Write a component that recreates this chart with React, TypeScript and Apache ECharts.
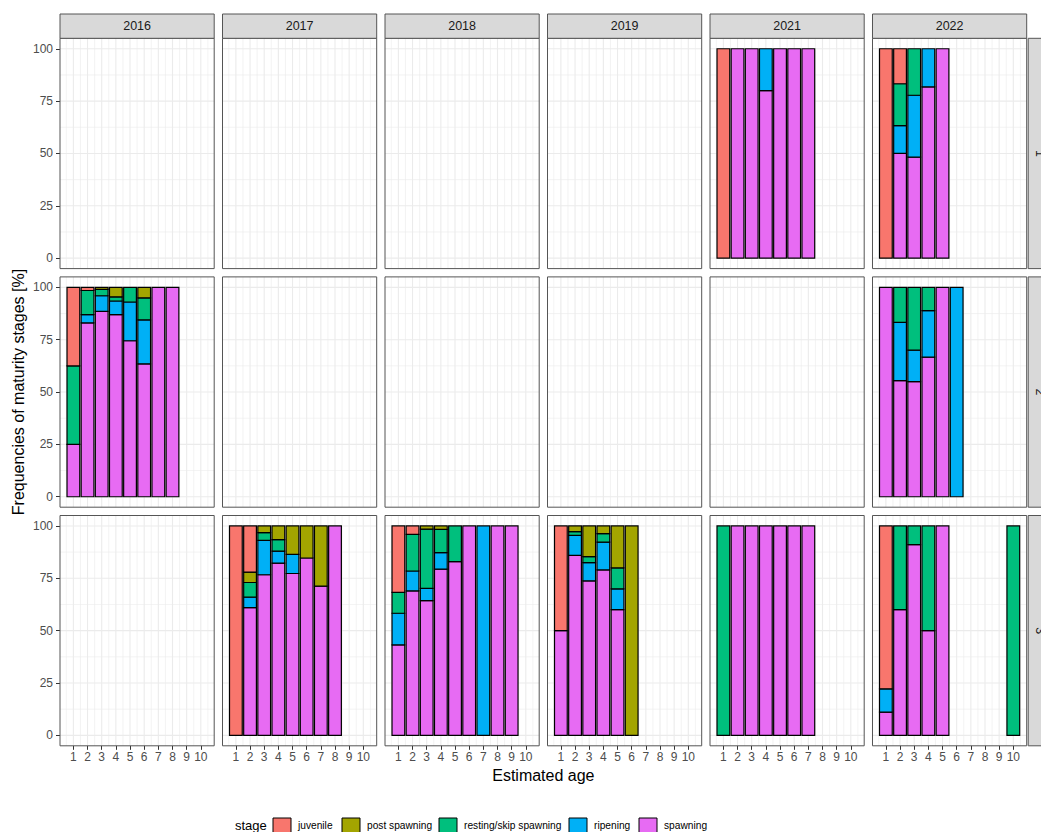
import React, { useEffect, useRef } from 'react';
import * as echarts from 'echarts';

// Maturity stages (fill order) and their colours
const stages = ['juvenile', 'post spawning', 'resting/skip spawning', 'ripening', 'spawning'];
const stageColors = ['#F8766D', '#A3A500', '#00BF7D', '#00B0F6', '#E76BF3'];

// Facets
const years = ['2016', '2017', '2018', '2019', '2021', '2022'];
const areas = ['1', '2', '3'];

// Axis breaks
const ageTicks = [1, 2, 3, 4, 5, 6, 7, 8, 9, 10];
const ageMinor = [0.5, 1.5, 2.5, 3.5, 4.5, 5.5, 6.5, 7.5, 8.5, 9.5, 10.5];
const pctTicks = [0, 25, 50, 75, 100];
const pctMinor = [12.5, 37.5, 62.5, 87.5];

// Rows: [age, juvenile, post spawning, resting/skip spawning, ripening, spawning] in %
const y2016a2 = [
  [1, 37.5, 0, 37.5, 0, 25],
  [2, 1.5, 0, 11.5, 4, 83],
  [3, 0, 1, 3, 7.5, 88.5],
  [4, 0, 4.5, 2, 6.5, 87],
  [5, 0, 0, 7, 18.5, 74.5],
  [6, 0, 5, 10.5, 21, 63.5],
  [7, 0, 0, 0, 0, 100],
  [8, 0, 0, 0, 0, 100],
];
const y2017a3 = [
  [1, 100, 0, 0, 0, 0],
  [2, 22, 5, 7, 5, 61],
  [3, 0, 3.2, 3.7, 16.4, 76.7],
  [4, 0, 6.5, 5.5, 5.7, 82.3],
  [5, 0, 13.6, 0, 9.1, 77.3],
  [6, 0, 15.3, 0, 0, 84.7],
  [7, 0, 28.7, 0, 0, 71.3],
  [8, 0, 0, 0, 0, 100],
];
const y2018a3 = [
  [1, 31.7, 0, 10, 15.1, 43.2],
  [2, 4, 0, 17.5, 9.5, 69],
  [3, 0, 1.5, 28.3, 5.9, 64.3],
  [4, 0, 1.6, 11.1, 7.9, 79.4],
  [5, 0, 0, 17, 0, 83],
  [6, 0, 0, 0, 0, 100],
  [7, 0, 0, 0, 100, 0],
  [8, 0, 0, 0, 0, 100],
  [9, 0, 0, 0, 0, 100],
];
const y2019a3 = [
  [1, 50, 0, 0, 0, 50],
  [2, 0, 2.7, 1.8, 9.5, 86],
  [3, 0, 14.6, 2.9, 8.7, 73.8],
  [4, 0, 3.7, 4, 13.3, 79],
  [5, 0, 20, 10, 10, 60],
  [6, 0, 100, 0, 0, 0],
];
const y2021a1 = [
  [1, 100, 0, 0, 0, 0],
  [2, 0, 0, 0, 0, 100],
  [3, 0, 0, 0, 0, 100],
  [4, 0, 0, 0, 20, 80],
  [5, 0, 0, 0, 0, 100],
  [6, 0, 0, 0, 0, 100],
  [7, 0, 0, 0, 0, 100],
];
const y2021a3 = [
  [1, 0, 0, 100, 0, 0],
  [2, 0, 0, 0, 0, 100],
  [3, 0, 0, 0, 0, 100],
  [4, 0, 0, 0, 0, 100],
  [5, 0, 0, 0, 0, 100],
  [6, 0, 0, 0, 0, 100],
  [7, 0, 0, 0, 0, 100],
];
const y2022a1 = [
  [1, 100, 0, 0, 0, 0],
  [2, 16.7, 0, 20, 13.3, 50],
  [3, 0, 0, 22.2, 29.6, 48.2],
  [4, 0, 0, 0, 18.2, 81.8],
  [5, 0, 0, 0, 0, 100],
];
const y2022a2 = [
  [1, 0, 0, 0, 0, 100],
  [2, 0, 0, 16.7, 27.8, 55.5],
  [3, 0, 0, 30, 15, 55],
  [4, 0, 0, 11.1, 22.2, 66.7],
  [5, 0, 0, 0, 0, 100],
  [6, 0, 0, 0, 100, 0],
];
const y2022a3 = [
  [1, 77.8, 0, 0, 11.1, 11.1],
  [2, 0, 0, 40, 0, 60],
  [3, 0, 0, 8.9, 0, 91.1],
  [4, 0, 0, 50, 0, 50],
  [5, 0, 0, 0, 0, 100],
  [10, 0, 0, 100, 0, 0],
];

const panelData: { year: string; area: string; rows: number[][] }[] = [
  { year: '2016', area: '2', rows: y2016a2 },
  { year: '2017', area: '3', rows: y2017a3 },
  { year: '2018', area: '3', rows: y2018a3 },
  { year: '2019', area: '3', rows: y2019a3 },
  { year: '2021', area: '1', rows: y2021a1 },
  { year: '2021', area: '3', rows: y2021a3 },
  { year: '2022', area: '1', rows: y2022a1 },
  { year: '2022', area: '2', rows: y2022a2 },
  { year: '2022', area: '3', rows: y2022a3 },
];

// Layout (px)
const FONT = 'Liberation Sans, Arial, Helvetica, sans-serif';
const PANEL_LEFT = 60;
const PANEL_STEP_X = 162.5;
const PANEL_W = 154.2;
const PANEL_TOP = 38.3;
const PANEL_STEP_Y = 238.6;
const PANEL_H = 230.3;
const STRIP = 24.3;
const X_MIN = 0.055;
const X_MAX = 10.945;
const Y_MIN = -5;
const Y_MAX = 105;
const BAR_HALF = 0.45;
const FRAME = '#555555';
const legendBoxX = [273, 342, 439, 569, 639];

function stackRows(rows: number[][]) {
  const out: number[][] = [];
  rows.forEach((r) => {
    const age = r[0];
    let base = 0;
    for (let s = stages.length - 1; s >= 0; s--) {
      const v = r[s + 1];
      if (v > 0) {
        out.push([age, base, base + v, s]);
        base += v;
      }
    }
  });
  return out;
}

function buildOption() {
  const grid: any[] = [];
  const xAxis: any[] = [];
  const yAxis: any[] = [];
  const series: any[] = [];
  const graphic: any[] = [];

  const gridLines: number[][] = [];
  ageMinor.forEach((v) => gridLines.push([0, v, 0]));
  pctMinor.forEach((v) => gridLines.push([1, v, 0]));
  ageTicks.forEach((v) => gridLines.push([0, v, 1]));
  pctTicks.forEach((v) => gridLines.push([1, v, 1]));

  areas.forEach((area, r) => {
    years.forEach((year, c) => {
      const g = r * years.length + c;
      const left = PANEL_LEFT + c * PANEL_STEP_X;
      const top = PANEL_TOP + r * PANEL_STEP_Y;
      grid.push({
        left, top, width: PANEL_W, height: PANEL_H,
        show: true, backgroundColor: '#ffffff', borderWidth: 0,
        containLabel: false,
      });
      // panel frame drawn above the grid lines and bars
      graphic.push({
        type: 'rect', silent: true, z: 100,
        shape: { x: left, y: top, width: PANEL_W, height: PANEL_H },
        style: { fill: 'none', stroke: FRAME, lineWidth: 1 },
      });
      const bottomRow = r === areas.length - 1;
      const firstCol = c === 0;
      xAxis.push({
        gridIndex: g, type: 'value', min: X_MIN, max: X_MAX, position: 'bottom',
        axisLine: { show: false, onZero: false }, splitLine: { show: false },
        axisTick: { show: bottomRow, customValues: ageTicks, length: 4, lineStyle: { color: '#333333', width: 1 } },
        axisLabel: { show: bottomRow, customValues: ageTicks, margin: 5, color: '#4d4d4d', fontSize: 12, fontFamily: FONT },
      });
      yAxis.push({
        gridIndex: g, type: 'value', min: Y_MIN, max: Y_MAX, position: 'left',
        axisLine: { show: false, onZero: false }, splitLine: { show: false },
        axisTick: { show: firstCol, customValues: pctTicks, length: 4, lineStyle: { color: '#333333', width: 1 } },
        axisLabel: { show: firstCol, customValues: pctTicks, margin: 7, color: '#4d4d4d', fontSize: 12, fontFamily: FONT },
      });

      // panel grid lines
      series.push({
        type: 'custom', xAxisIndex: g, yAxisIndex: g, silent: true, z: 1,
        data: gridLines,
        renderItem: (_p: any, api: any) => {
          const o = api.value(0);
          const v = api.value(1);
          const major = api.value(2);
          const a = o === 0 ? api.coord([v, Y_MIN]) : api.coord([X_MIN, v]);
          const b = o === 0 ? api.coord([v, Y_MAX]) : api.coord([X_MAX, v]);
          return {
            type: 'line',
            shape: { x1: a[0], y1: a[1], x2: b[0], y2: b[1] },
            style: { stroke: '#ebebeb', lineWidth: major ? 1.1 : 0.6 },
          };
        },
      });

      const pd = panelData.find((p) => p.year === year && p.area === area);
      if (pd) {
        series.push({
          type: 'custom', xAxisIndex: g, yAxisIndex: g, z: 3,
          data: stackRows(pd.rows),
          encode: { x: 0, y: [1, 2] },
          renderItem: (_p: any, api: any) => {
            const age = api.value(0);
            const y0 = api.value(1);
            const y1 = api.value(2);
            const s = api.value(3);
            const p0 = api.coord([age - BAR_HALF, y1]);
            const p1 = api.coord([age + BAR_HALF, y0]);
            return {
              type: 'rect',
              shape: { x: p0[0], y: p0[1], width: p1[0] - p0[0], height: p1[1] - p0[1] },
              style: { fill: stageColors[s], stroke: '#000000', lineWidth: 1.2 },
            };
          },
        });
      }
    });
  });

  // column strips
  years.forEach((year, c) => {
    const left = PANEL_LEFT + c * PANEL_STEP_X;
    graphic.push({
      type: 'rect', silent: true, z: 100,
      shape: { x: left, y: PANEL_TOP - STRIP, width: PANEL_W, height: STRIP },
      style: { fill: '#d9d9d9', stroke: FRAME, lineWidth: 1 },
    });
    graphic.push({
      type: 'text', silent: true, z: 101, x: left + PANEL_W / 2, y: PANEL_TOP - STRIP / 2,
      style: { text: year, fontSize: 12.5, fontFamily: FONT, fill: '#1a1a1a', align: 'center', verticalAlign: 'middle' },
    });
  });
  // row strips
  const stripX = PANEL_LEFT + (years.length - 1) * PANEL_STEP_X + PANEL_W + 1.5;
  areas.forEach((area, r) => {
    const top = PANEL_TOP + r * PANEL_STEP_Y;
    graphic.push({
      type: 'rect', silent: true, z: 100,
      shape: { x: stripX, y: top, width: STRIP, height: PANEL_H },
      style: { fill: '#d9d9d9', stroke: FRAME, lineWidth: 1 },
    });
    graphic.push({
      type: 'text', silent: true, z: 101, x: stripX + STRIP / 2, y: top + PANEL_H / 2, rotation: -Math.PI / 2,
      style: { text: area, fontSize: 12.5, fontFamily: FONT, fill: '#1a1a1a', align: 'center', verticalAlign: 'middle' },
    });
  });

  // axis titles
  const panelsRight = PANEL_LEFT + (years.length - 1) * PANEL_STEP_X + PANEL_W;
  const panelsBottom = PANEL_TOP + (areas.length - 1) * PANEL_STEP_Y + PANEL_H;
  graphic.push({
    type: 'text', silent: true, x: (PANEL_LEFT + panelsRight) / 2, y: 775,
    style: { text: 'Estimated age', fontSize: 16, fontFamily: FONT, fill: '#000000', align: 'center', verticalAlign: 'middle' },
  });
  graphic.push({
    type: 'text', silent: true, x: 18, y: (PANEL_TOP + panelsBottom) / 2, rotation: Math.PI / 2,
    style: { text: 'Frequencies of maturity stages [%]', fontSize: 16, fontFamily: FONT, fill: '#000000', align: 'center', verticalAlign: 'middle' },
  });

  // legend
  graphic.push({
    type: 'text', silent: true, x: 235, y: 825,
    style: { text: 'stage', fontSize: 13, fontFamily: FONT, fill: '#000000', align: 'left', verticalAlign: 'middle' },
  });
  stages.forEach((s, i) => {
    graphic.push({
      type: 'rect', silent: true,
      shape: { x: legendBoxX[i], y: 818, width: 18, height: 17 },
      style: { fill: stageColors[i], stroke: '#000000', lineWidth: 1 },
    });
    graphic.push({
      type: 'text', silent: true, x: legendBoxX[i] + 25, y: 825,
      style: { text: s, fontSize: 10.2, fontFamily: FONT, fill: '#000000', align: 'left', verticalAlign: 'middle' },
    });
  });

  return {
    animation: false,
    backgroundColor: '#ffffff',
    grid, xAxis, yAxis, series, graphic,
  };
}

export default function App() {
  const ref = useRef<HTMLDivElement>(null);
  useEffect(() => {
    const chart = echarts.init(ref.current!, null, { renderer: 'svg' });
    chart.setOption(buildOption());
    return () => chart.dispose();
  }, []);
  return <div ref={ref} style={{ position: 'absolute', left: 0, top: 0, width: 1041, height: 832 }} />;
}
